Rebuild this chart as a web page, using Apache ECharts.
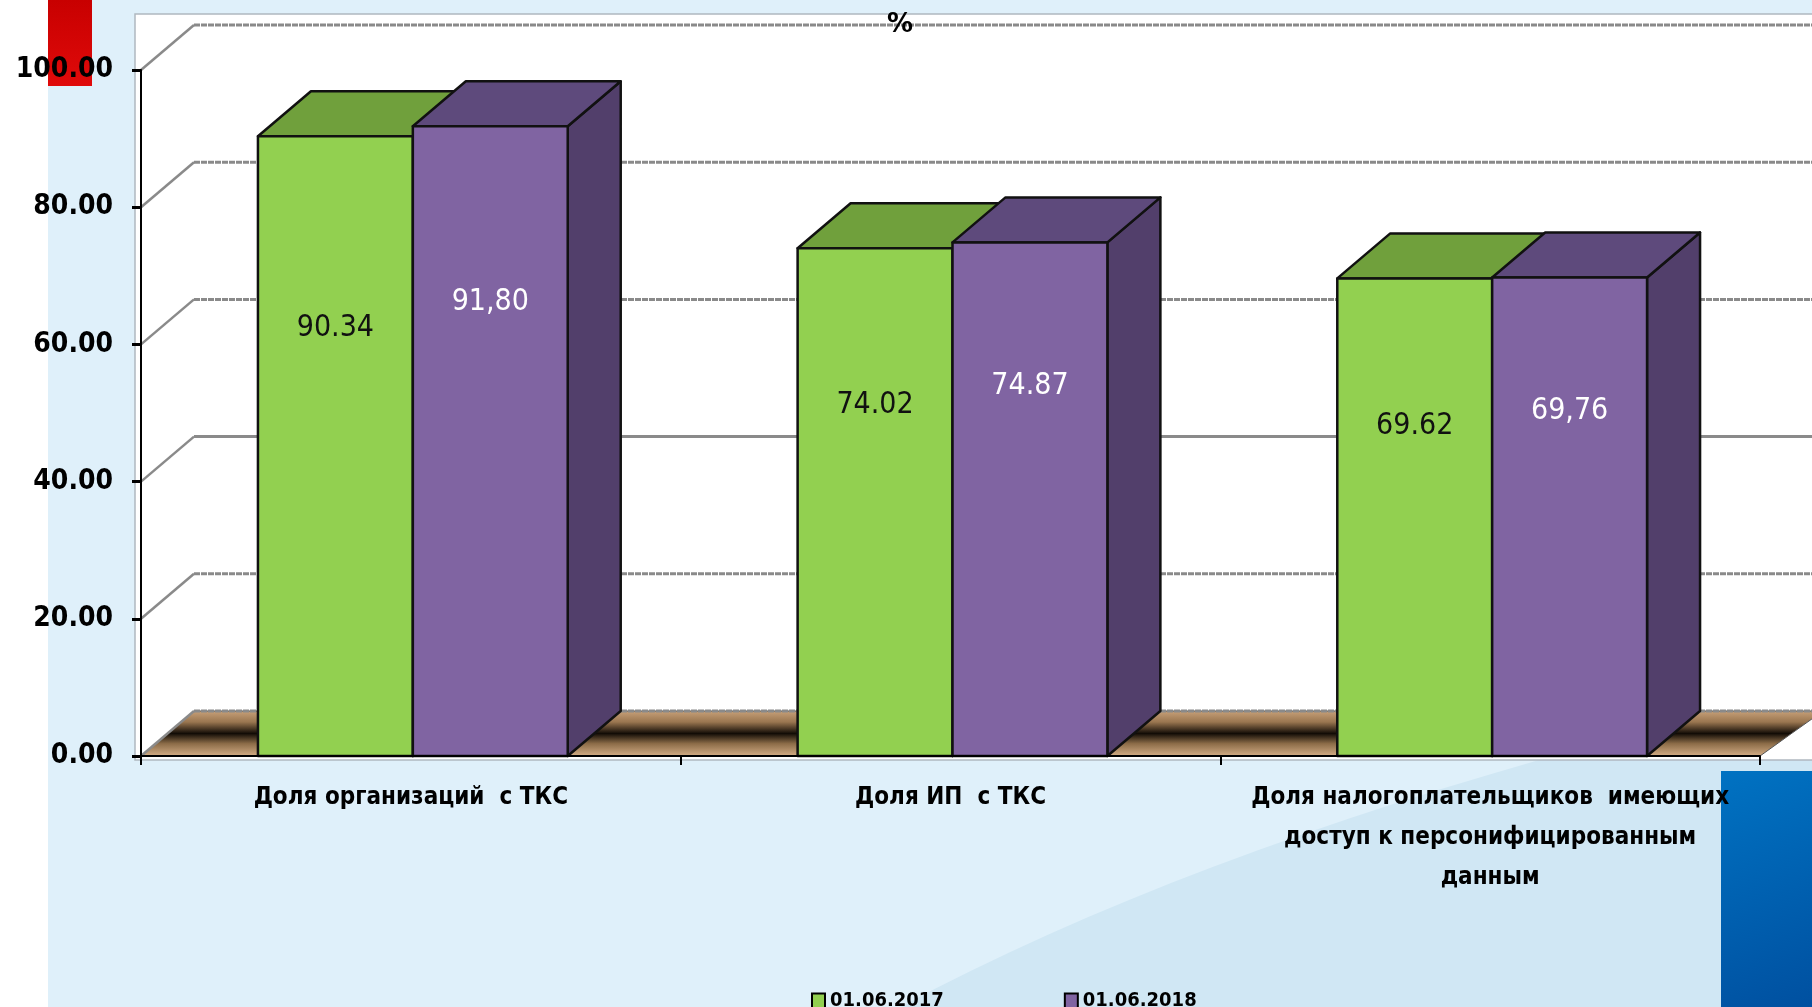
<!DOCTYPE html>
<html>
<head>
<meta charset="utf-8">
<script src="https://cdn.jsdelivr.net/npm/echarts@6/dist/echarts.min.js"></script>
<style>html,body{margin:0;padding:0;background:#fff;}#c{width:1812px;height:1007px;}</style>
</head>
<body>
<div id="c"></div>
<script>
const categories = ['Доля организаций  с ТКС', 'Доля ИП  с ТКС', 'Доля налогоплательщиков  имеющих\nдоступ к персонифицированным\nданным'];
const seriesNames = ['01.06.2017', '01.06.2018'];
const values2017 = [90.34, 74.02, 69.62];
const values2018 = [91.80, 74.87, 69.76];
const labels2017 = ['90.34', '74.02', '69.62'];
const labels2018 = ['91,80', '74.87', '69,76'];
const yTicks = [0, 20, 40, 60, 80, 100];
const unitLabel = '%';

const DX = 53, DY = -45;
const greenC = { front: '#92d050', top: '#70a03c', side: '#5f8a33' };
const purpleC = { front: '#8064a2', top: '#5e4a7c', side: '#523f6b' };

const chart = echarts.init(document.getElementById('c'), null, { renderer: 'canvas' });

function makeBar(sign, col, labels, textColor, frac) {
  return function (params, api) {
    const ci = api.value(0), v = api.value(1);
    const top = api.coord([ci, v]);
    const base = api.coord([ci, 0]);
    const band = api.size([1, 0])[0];
    const w = band * 0.287;
    const cx = top[0] + 2;
    const x0 = sign < 0 ? cx - w : cx;
    const x1 = x0 + w;
    const yT = top[1], yB = base[1];
    const ly = api.coord([ci, v * frac])[1];
    const stroke = { stroke: '#111', lineWidth: 2.5, lineJoin: 'round' };
    return {
      type: 'group',
      children: [
        { type: 'polygon', shape: { points: [[x1, yT], [x1 + DX, yT + DY], [x1 + DX, yB + DY], [x1, yB]] }, style: Object.assign({ fill: col.side }, stroke) },
        { type: 'polygon', shape: { points: [[x0, yT], [x1, yT], [x1 + DX, yT + DY], [x0 + DX, yT + DY]] }, style: Object.assign({ fill: col.top }, stroke) },
        { type: 'rect', shape: { x: x0, y: yT, width: w, height: yB - yT }, style: Object.assign({ fill: col.front }, stroke) },
        { type: 'text', x: (x0 + x1) / 2, y: ly, style: { text: labels[params.dataIndex], fill: textColor, font: '30px "DejaVu Sans Condensed"', align: 'center', verticalAlign: 'middle' } }
      ]
    };
  };
}

function renderWalls(params, api) {
  const cs = params.coordSys;
  const L = cs.x, R = cs.x + cs.width;
  const children = [];
  const y0 = api.coord([0, 0])[1];
  children.push({
    type: 'polygon',
    shape: { points: [[L, y0], [L + DX, y0 + DY], [R + DX + 10, y0 + DY], [R, y0]] },
    style: {
      fill: {
        type: 'linear', x: 0, y: 0, x2: 0, y2: 1,
        colorStops: [
          { offset: 0, color: '#c9a27a' },
          { offset: 0.25, color: '#9a7650' },
          { offset: 0.5, color: '#120c06' },
          { offset: 0.72, color: '#8c6c48' },
          { offset: 1, color: '#d6b088' }
        ]
      },
      stroke: '#555', lineWidth: 1
    }
  });
  yTicks.forEach(function (t) {
    const y = api.coord([0, t])[1];
    children.push({ type: 'line', shape: { x1: L, y1: y, x2: L + DX, y2: y + DY }, style: { stroke: '#8a8a8a', lineWidth: 2.5 } });
    children.push({ type: 'line', shape: { x1: L + DX, y1: y + DY, x2: R + DX + 20, y2: y + DY }, style: { stroke: '#8a8a8a', lineWidth: 3, lineDash: t === 40 ? null : [6, 1] } });
  });
  return { type: 'group', children: children };
}

// decorative swoosh outline (background only)
const swoosh = [];
for (let i = 0; i <= 20; i++) {
  const t = i / 20;
  const x = (1 - t) * (1 - t) * 900 + 2 * (1 - t) * t * 1250 + t * t * 1812;
  const y = (1 - t) * (1 - t) * 1007 + 2 * (1 - t) * t * 820 + t * t * 690;
  swoosh.push([x, y]);
}
swoosh.push([1812, 1007]);

const option = {
  backgroundColor: '#ffffff',
  animation: false,
  graphic: [
    { type: 'rect', z: -100, shape: { x: 48, y: 0, width: 1764, height: 1007 }, style: { fill: '#dff0fa' } },
    { type: 'polygon', z: -99, shape: { points: swoosh }, style: { fill: '#d0e7f4' } },
    { type: 'rect', z: -98, shape: { x: 48, y: 0, width: 44, height: 86 }, style: { fill: { type: 'linear', x: 0, y: 0, x2: 0, y2: 1, colorStops: [{ offset: 0, color: '#c80000' }, { offset: 1, color: '#e00a0a' }] } } },
    { type: 'rect', z: -97, shape: { x: 1721, y: 771, width: 91, height: 236 }, style: { fill: { type: 'linear', x: 0, y: 0, x2: 1, y2: 1, colorStops: [{ offset: 0, color: '#0072c2' }, { offset: 1, color: '#0050a0' }] } } },
    { type: 'rect', z: -96, shape: { x: 135, y: 14, width: 1690, height: 746 }, style: { fill: '#ffffff', stroke: '#b0b8c0', lineWidth: 1.5 } },
    { type: 'text', z: 50, x: 900, y: 25, style: { text: unitLabel, font: 'bold 26px "DejaVu Sans"', fill: '#000', align: 'center', verticalAlign: 'middle' } }
  ],
  grid: { left: 141, right: 52, top: 70, bottom: 251 },
  legend: {
    left: 806, top: 986, itemGap: 120, itemWidth: 13, itemHeight: 15,
    icon: 'rect',
    textStyle: { fontFamily: 'DejaVu Sans Condensed', fontWeight: 'bold', fontSize: 20, color: '#000' },
    itemStyle: { borderColor: '#000', borderWidth: 2 },
    data: seriesNames
  },
  xAxis: {
    type: 'category', data: categories, z: 10,
    axisLine: { lineStyle: { color: '#000', width: 2 } },
    axisTick: { show: true, length: 9, lineStyle: { color: '#000', width: 2 } },
    axisLabel: { interval: 0, margin: 22, color: '#000', fontFamily: 'DejaVu Sans Condensed', fontWeight: 'bold', fontSize: 24, lineHeight: 40 },
    splitLine: { show: false }
  },
  yAxis: {
    type: 'value', min: 0, max: 100, interval: 20, z: 10,
    axisLine: { show: true, lineStyle: { color: '#000', width: 2 } },
    axisTick: { show: true, length: 9, lineStyle: { color: '#000', width: 3 } },
    axisLabel: { margin: 28, color: '#000', fontFamily: '"DejaVu Sans Condensed", sans-serif', fontWeight: 'bold', fontSize: 28, formatter: function (v) { return v.toFixed(2); } },
    splitLine: { show: false }
  },
  series: [
    { type: 'custom', name: 'walls', silent: true, z: 1, data: [[0, 0]], renderItem: renderWalls, clip: false },
    { type: 'custom', name: seriesNames[0], z: 3, itemStyle: { color: greenC.front }, data: values2017.map(function (v, i) { return [i, v]; }), encode: { x: 0, y: 1 }, renderItem: makeBar(-1, greenC, labels2017, '#111', 0.69) },
    { type: 'custom', name: seriesNames[1], z: 4, itemStyle: { color: purpleC.front }, data: values2018.map(function (v, i) { return [i, v]; }), encode: { x: 0, y: 1 }, renderItem: makeBar(1, purpleC, labels2018, '#ffffff', 0.72) }
  ]
};
chart.setOption(option);
</script>
</body>
</html>
